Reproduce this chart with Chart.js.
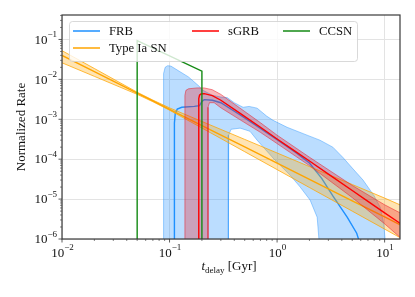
<!DOCTYPE html>
<html>
<head>
<meta charset="utf-8">
<script src="https://cdn.jsdelivr.net/npm/chart.js@4.4.1/dist/chart.umd.min.js"></script>
<style>
html, body { margin: 0; padding: 0; background: #fff; }
#wrap { width: 415px; height: 297px; }
</style>
</head>
<body>
<div id="wrap"><canvas id="chart" width="415" height="297"></canvas></div>
<script>
// axes
const xMajor = [0.01, 0.1, 1, 10];
const xExp = ['\u22122', '\u22121', '0', '1'];
const yMajor = [1e-6, 1e-5, 1e-4, 1e-3, 1e-2, 1e-1];
const yExp = ['\u22126', '\u22125', '\u22124', '\u22123', '\u22122', '\u22121'];

// FRB median and band (band = upper edge, then lower edge back)
const frbX = [0.111, 0.111, 0.113, 0.118, 0.13, 0.17, 0.19, 0.2, 0.21, 0.25, 0.3, 0.45, 0.7, 1, 1.5, 2, 2.6, 3.3, 4.5, 5.5, 6.2];
const frbY = [1e-7, 8e-4, 1.4e-3, 1.8e-3, 2.0e-3, 2.1e-3, 2.2e-3, 2.8e-3, 3.1e-3, 3.0e-3, 2.6e-3, 1.3e-3, 5.9e-4, 3.1e-4, 1.45e-4, 8e-5, 3.3e-5, 1.2e-5, 3.5e-6, 1.4e-6, 5e-7];
const frbBandX = [0.0875, 0.0875, 0.0885, 0.091, 0.096, 0.103, 0.15, 0.19, 0.2, 0.25, 0.3, 0.343, 0.4, 0.483, 0.55, 0.652, 0.8, 0.918, 1.24, 1.9, 2.5, 3.3, 4.1, 5, 6.3, 8, 9.08, 9.8, 10.1, 10.2,
  2.62, 2.36, 2.03, 1.64, 1.32, 0.957, 0.652, 0.56, 0.453, 0.373, 0.355, 0.352];
const frbBandY = [1e-7, 4e-3, 0.014, 0.02, 0.022, 0.0215, 0.0115, 6.6e-3, 5.5e-3, 4.0e-3, 3.6e-3, 3.5e-3, 2.6e-3, 2.0e-3, 2.1e-3, 1.9e-3, 1.2e-3, 9.4e-4, 6.3e-4, 4.0e-4, 3.0e-4, 2.0e-4, 1.1e-4, 6e-5, 3.0e-5, 1.2e-5, 6.3e-6, 2.5e-6, 1e-6, 1e-7,
  1e-7, 3.5e-6, 9.4e-6, 2.0e-5, 4.0e-5, 9.4e-5, 3.0e-4, 5.0e-4, 6.0e-4, 5.6e-4, 4e-4, 1e-7];

// sGRB
const sgrbX = [0.187, 0.187, 0.19, 0.196, 0.21, 0.25, 0.3, 0.45, 0.7, 1, 1.5, 2, 3, 5, 7, 10, 14.2];
const sgrbY = [1e-7, 3.3e-3, 4.0e-3, 4.3e-3, 4.4e-3, 3.9e-3, 3.0e-3, 1.42e-3, 6.3e-4, 3.2e-4, 1.53e-4, 9.0e-5, 4.24e-5, 1.64e-5, 8.8e-6, 4.5e-6, 2.39e-6];
const sgrbBandX = [0.139, 0.139, 0.142, 0.15, 0.18, 0.21, 0.25, 0.3, 0.45, 0.7, 1, 2, 5, 10, 14.2,
  14.2, 10, 5, 2, 1, 0.7, 0.45, 0.3, 0.26, 0.235, 0.228, 0.228];
const sgrbBandY = [1e-7, 4.0e-3, 5.3e-3, 5.8e-3, 6.1e-3, 6.1e-3, 5.5e-3, 4.2e-3, 1.92e-3, 8.2e-4, 4.0e-4, 1.12e-4, 2.2e-5, 7.2e-6, 4.4e-6,
  1.05e-6, 2.4e-6, 1.09e-5, 6.9e-5, 2.46e-4, 4.7e-4, 9.8e-4, 1.94e-3, 2.6e-3, 2.6e-3, 2.0e-3, 1e-7];

// Type Ia SN
const iaX = [0.01, 0.02, 0.05, 0.07, 0.1, 0.2, 0.5, 1, 2, 5, 10, 14.2];
const iaY = [0.0399, 0.0156, 0.00454, 0.00288, 0.00178, 6.98e-4, 2.03e-4, 7.96e-5, 3.12e-5, 9.06e-6, 3.56e-6, 2.2e-6];
const iaUp = [0.0524, 0.0187, 0.00476, 0.00302, 0.00193, 8.81e-4, 3.13e-4, 1.43e-4, 6.53e-5, 2.32e-5, 1.06e-5, 7.0e-6];
const iaLow = [0.026, 0.0119, 0.00422, 0.00275, 0.00169, 6.04e-4, 1.54e-4, 5.48e-5, 1.95e-5, 4.99e-6, 1.77e-6, 1.05e-6];

// CCSN
const ccsnX = [0.05, 0.05, 0.2, 0.2];
const ccsnY = [1e-7, 0.093, 0.016, 1e-7];

const BLUE = '#1e90ff', RED = '#ff0000', ORANGE = '#ffa500', GREEN = '#148a14';
const SERIF = '"Liberation Serif", "Times New Roman", serif';

function pts(xs, ys) {
  return xs.map((x, i) => ({ x: x, y: ys[i] }));
}

function line(data, color, order) {
  return { data: data, borderColor: color, borderWidth: 1.4, pointRadius: 0, fill: false, order: order };
}
function band(data, fillColor, edgeColor, order) {
  return { data: data, backgroundColor: fillColor, borderColor: edgeColor, borderWidth: 0.9, pointRadius: 0, fill: 'shape', order: order };
}

// axis frame, ticks, tick labels, titles, legend
const deco = {
  id: 'deco',
  afterDraw(chart) {
    const ctx = chart.ctx;
    const a = chart.chartArea;
    const xs = chart.scales.x, ys = chart.scales.y;
    ctx.save();

    // ticks (outward)
    ctx.strokeStyle = '#333';
    function tickX(v, len, w) {
      const p = xs.getPixelForValue(v);
      if (p < a.left - 0.5 || p > a.right + 0.5) return;
      ctx.lineWidth = w;
      ctx.beginPath(); ctx.moveTo(p, a.bottom); ctx.lineTo(p, a.bottom + len); ctx.stroke();
    }
    function tickY(v, len, w) {
      const p = ys.getPixelForValue(v);
      if (p < a.top - 0.5 || p > a.bottom + 0.5) return;
      ctx.lineWidth = w;
      ctx.beginPath(); ctx.moveTo(a.left, p); ctx.lineTo(a.left - len, p); ctx.stroke();
    }
    [0.01, 0.1, 1].forEach(d => { for (let k = 2; k <= 9; k++) tickX(d * k, 2, 0.6); });
    [1e-6, 1e-5, 1e-4, 1e-3, 1e-2, 1e-1].forEach(d => { for (let k = 2; k <= 9; k++) tickY(d * k, 2, 0.6); });
    xMajor.forEach(v => tickX(v, 3.5, 0.8));
    yMajor.forEach(v => tickY(v, 3.5, 0.8));

    // frame
    ctx.strokeStyle = '#3a3a3a';
    ctx.lineWidth = 1.2;
    ctx.strokeRect(a.left, a.top, a.right - a.left, a.bottom - a.top);

    // tick labels 10^n
    ctx.fillStyle = '#111';
    ctx.textBaseline = 'alphabetic';
    function pow(exp, x, yBase, yExpBase, mode) {
      ctx.font = '13px ' + SERIF;
      const wb = ctx.measureText('10').width;
      ctx.font = '9px ' + SERIF;
      const we = ctx.measureText(exp).width;
      const x0 = mode === 'center' ? x - (wb + we) / 2 : x - (wb + we);
      ctx.textAlign = 'left';
      ctx.font = '13px ' + SERIF;
      ctx.fillText('10', x0, yBase);
      ctx.font = '9px ' + SERIF;
      ctx.fillText(exp, x0 + wb, yExpBase);
    }
    xMajor.forEach((v, i) => pow(xExp[i], xs.getPixelForValue(v) + 0.5, 257, 249.5, 'center'));
    yMajor.forEach((v, i) => {
      const p = ys.getPixelForValue(v);
      pow(yExp[i], 57, p + 4.3, p - 2.5, 'right');
    });

    // y title
    ctx.save();
    ctx.translate(22, (a.top + a.bottom) / 2);
    ctx.rotate(-Math.PI / 2);
    ctx.font = '13px ' + SERIF;
    ctx.textAlign = 'center';
    ctx.textBaseline = 'middle';
    ctx.fillText('Normalized Rate', 0, 0);
    ctx.restore();

    // x title: t_delay [Gyr]
    ctx.textAlign = 'left';
    ctx.font = 'italic 13px ' + SERIF;
    const w1 = ctx.measureText('t').width;
    ctx.font = '9px ' + SERIF;
    const w2 = ctx.measureText('delay').width;
    ctx.font = '13px ' + SERIF;
    const w3 = ctx.measureText(' [Gyr]').width;
    let tx = 229 - (w1 + w2 + w3) / 2;
    const ty = 270;
    ctx.font = 'italic 13px ' + SERIF;
    ctx.fillText('t', tx, ty); tx += w1;
    ctx.font = '9px ' + SERIF;
    ctx.fillText('delay', tx, ty + 3); tx += w2;
    ctx.font = '13px ' + SERIF;
    ctx.fillText(' [Gyr]', tx, ty);

    // legend
    const lx = 69.5, ly = 21.5, lw = 288, lh = 40, r = 3;
    ctx.beginPath();
    ctx.moveTo(lx + r, ly);
    ctx.lineTo(lx + lw - r, ly); ctx.quadraticCurveTo(lx + lw, ly, lx + lw, ly + r);
    ctx.lineTo(lx + lw, ly + lh - r); ctx.quadraticCurveTo(lx + lw, ly + lh, lx + lw - r, ly + lh);
    ctx.lineTo(lx + r, ly + lh); ctx.quadraticCurveTo(lx, ly + lh, lx, ly + lh - r);
    ctx.lineTo(lx, ly + r); ctx.quadraticCurveTo(lx, ly, lx + r, ly);
    ctx.closePath();
    ctx.fillStyle = 'rgba(255,255,255,0.8)';
    ctx.fill();
    ctx.strokeStyle = '#cfcfcf';
    ctx.lineWidth = 0.8;
    ctx.stroke();

    const entries = [
      { label: 'FRB', color: BLUE, x: 73, y: 31 },
      { label: 'Type Ia SN', color: ORANGE, x: 73, y: 48 },
      { label: 'sGRB', color: RED, x: 192, y: 31 },
      { label: 'CCSN', color: GREEN, x: 283, y: 31 }
    ];
    ctx.font = '12.7px ' + SERIF;
    ctx.textBaseline = 'middle';
    entries.forEach(e => {
      ctx.strokeStyle = e.color;
      ctx.lineWidth = 1.5;
      ctx.beginPath(); ctx.moveTo(e.x, e.y); ctx.lineTo(e.x + 27, e.y); ctx.stroke();
      ctx.fillStyle = '#111';
      ctx.fillText(e.label, e.x + 36, e.y + 0.5);
    });
    ctx.restore();
  }
};

new Chart(document.getElementById('chart'), {
  type: 'line',
  data: {
    datasets: [
      band(pts(frbBandX, frbBandY), 'rgba(30,144,255,0.3)', 'rgba(30,144,255,0.45)', 7),
      line(pts(frbX, frbY), BLUE, 6),
      band(pts(iaX.concat(iaX.slice().reverse()), iaUp.concat(iaLow.slice().reverse())), 'rgba(255,165,0,0.3)', 'rgba(255,165,0,0.85)', 5),
      line(pts(iaX, iaY), ORANGE, 4),
      band(pts(sgrbBandX, sgrbBandY), 'rgba(235,20,30,0.3)', 'rgba(235,20,30,0.55)', 3),
      line(pts(sgrbX, sgrbY), RED, 2),
      line(pts(ccsnX, ccsnY), GREEN, 1)
    ]
  },
  options: {
    responsive: false,
    animation: false,
    devicePixelRatio: 1,
    events: [],
    layout: { padding: { top: 15, right: 15, left: 0, bottom: 0 } },
    plugins: { legend: { display: false }, tooltip: { enabled: false } },
    scales: {
      x: {
        type: 'logarithmic',
        min: 0.01,
        max: 13.9,
        afterBuildTicks: s => { s.ticks = xMajor.map(v => ({ value: v })); },
        afterFit: s => { s.height = 58; },
        ticks: { display: false },
        border: { display: false },
        grid: { color: '#e3e3e3', lineWidth: 1, drawTicks: false }
      },
      y: {
        type: 'logarithmic',
        min: 1e-6,
        max: 0.41,
        afterBuildTicks: s => { s.ticks = yMajor.map(v => ({ value: v })); },
        afterFit: s => { s.width = 62; },
        ticks: { display: false },
        border: { display: false },
        grid: { color: '#e3e3e3', lineWidth: 1, drawTicks: false }
      }
    }
  },
  plugins: [deco]
});
</script>
</body>
</html>
